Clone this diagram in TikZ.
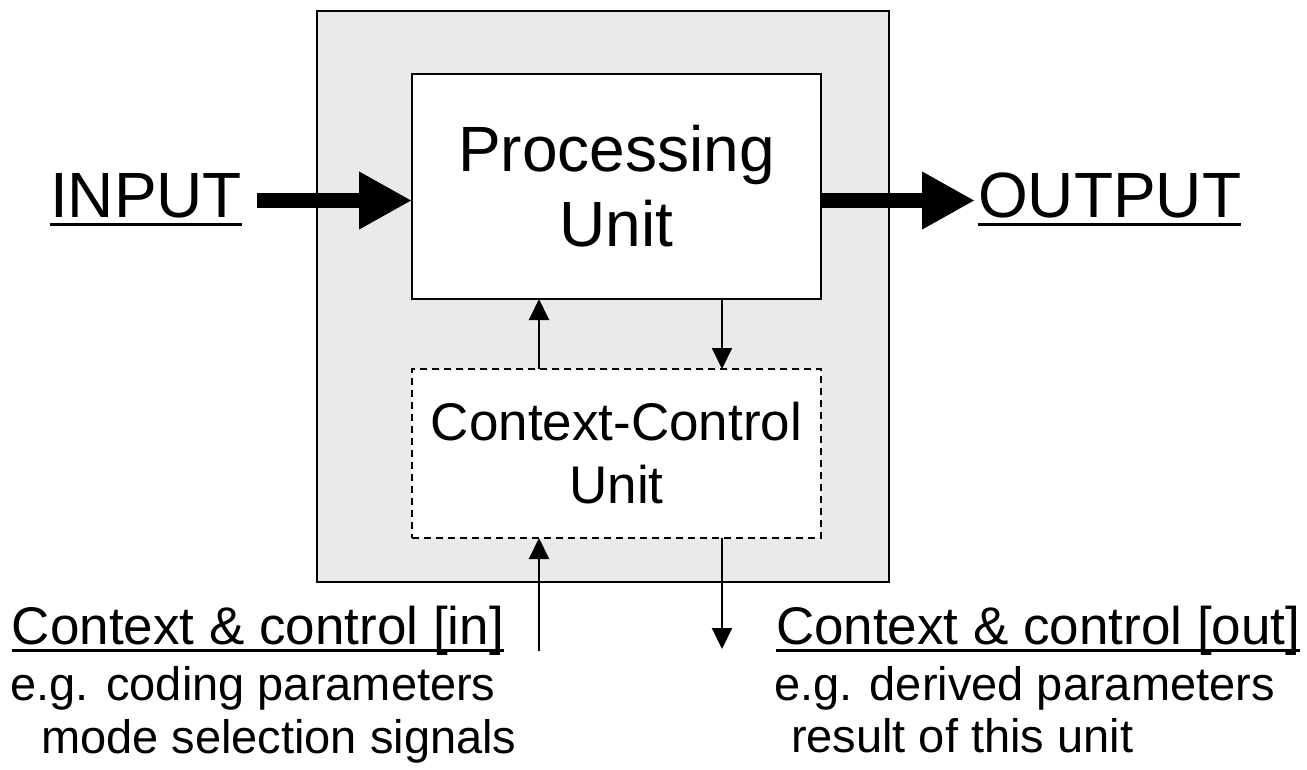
\documentclass[tikz,border=0pt]{standalone}
\usepackage{fontspec}
\setmainfont{Liberation Sans}
\usetikzlibrary{arrows.meta}
\definecolor{boxgray}{HTML}{EAEAEA}
\begin{document}
\begin{tikzpicture}[x=1pt,y=-1pt,
  bigfont/.style={font=\fontsize{64}{75}\selectfont},
  midfont/.style={font=\fontsize{53}{63}\selectfont},
  smallfont/.style={font=\fontsize{47}{50}\selectfont},
  txt/.style={inner sep=0pt, outer sep=0pt, anchor=base west},
  unitbox/.style={draw=black, fill=white, line width=1.5pt, minimum width=409pt, inner sep=0pt, outer sep=0pt, align=center},
  dashbox/.style={dash pattern=on 7pt off 5pt},
  bigarrow/.style={line width=15pt, -{Triangle[length=53pt,width=54pt]}},
  thinarrow/.style={line width=2pt, -{Triangle[length=21pt,width=20pt]}},
  ulbig/.style={line width=3.7pt},
  ulmid/.style={line width=3pt}
]
\useasboundingbox (0,0) rectangle (1307,769);

% outer gray box
\node[draw=black, line width=1.5pt, fill=boxgray, minimum width=572pt, minimum height=571pt, inner sep=0pt, outer sep=0pt] (outer) at (603,296.5) {};

% units
\node[unitbox, bigfont, minimum height=225pt] (proc) at (616.5,186.5) {Processing\\Unit};
\node[unitbox, dashbox, midfont, minimum height=169pt] (cc) at (616.5,453.5) {Context-Control\\Unit};

% input / output labels
\node[txt, bigfont] (inp) at (50,217) {INPUT};
\node[txt, bigfont] (outp) at (978,217) {OUTPUT};
\draw[ulbig] ([yshift=-7.5pt]inp.base west) -- ([yshift=-7.5pt]inp.base east);
\draw[ulbig] ([yshift=-7.5pt]outp.base west) -- ([yshift=-7.5pt]outp.base east);

% big arrows
\coordinate (instart) at (257,200.5);
\coordinate (outend) at (975,200.5);
\draw[bigarrow] (instart) -- (instart -| proc.west);
\draw[bigarrow] (outend -| proc.east) -- (outend);

% internal thin arrows
\coordinate (xa) at (539,0);
\coordinate (xb) at (722,0);
\draw[thinarrow] (xa |- cc.north) -- (xa |- proc.south);
\draw[thinarrow] (xb |- proc.south) -- (xb |- cc.north);

% bottom thin arrows
\coordinate (ain) at (539,651);
\coordinate (aout) at (722,649);
\draw[thinarrow] (ain) -- (xa |- cc.south);
\draw[thinarrow] (xb |- cc.south) -- (aout);

% bottom left text
\node[txt, midfont] (cin) at (12,644) {Context \& control [in]};
\draw[ulmid] ([yshift=-6.5pt]cin.base west) -- ([yshift=-6.5pt]cin.base east);
\node[txt, smallfont] (cin1) at (10.5,700) {e.g. coding parameters};
\node[txt, smallfont] (cin2) at (41,753) {mode selection signals};

% bottom right text
\node[txt, midfont] (cout) at (776,644) {Context \& control [out]};
\draw[ulmid] ([yshift=-6.5pt]cout.base west) -- ([yshift=-6.5pt]cout.base east);
\node[txt, smallfont] (cout1) at (774,700) {e.g. derived parameters};
\node[txt, smallfont] (cout2) at (791,752) {result of this unit};
\end{tikzpicture}
\end{document}
